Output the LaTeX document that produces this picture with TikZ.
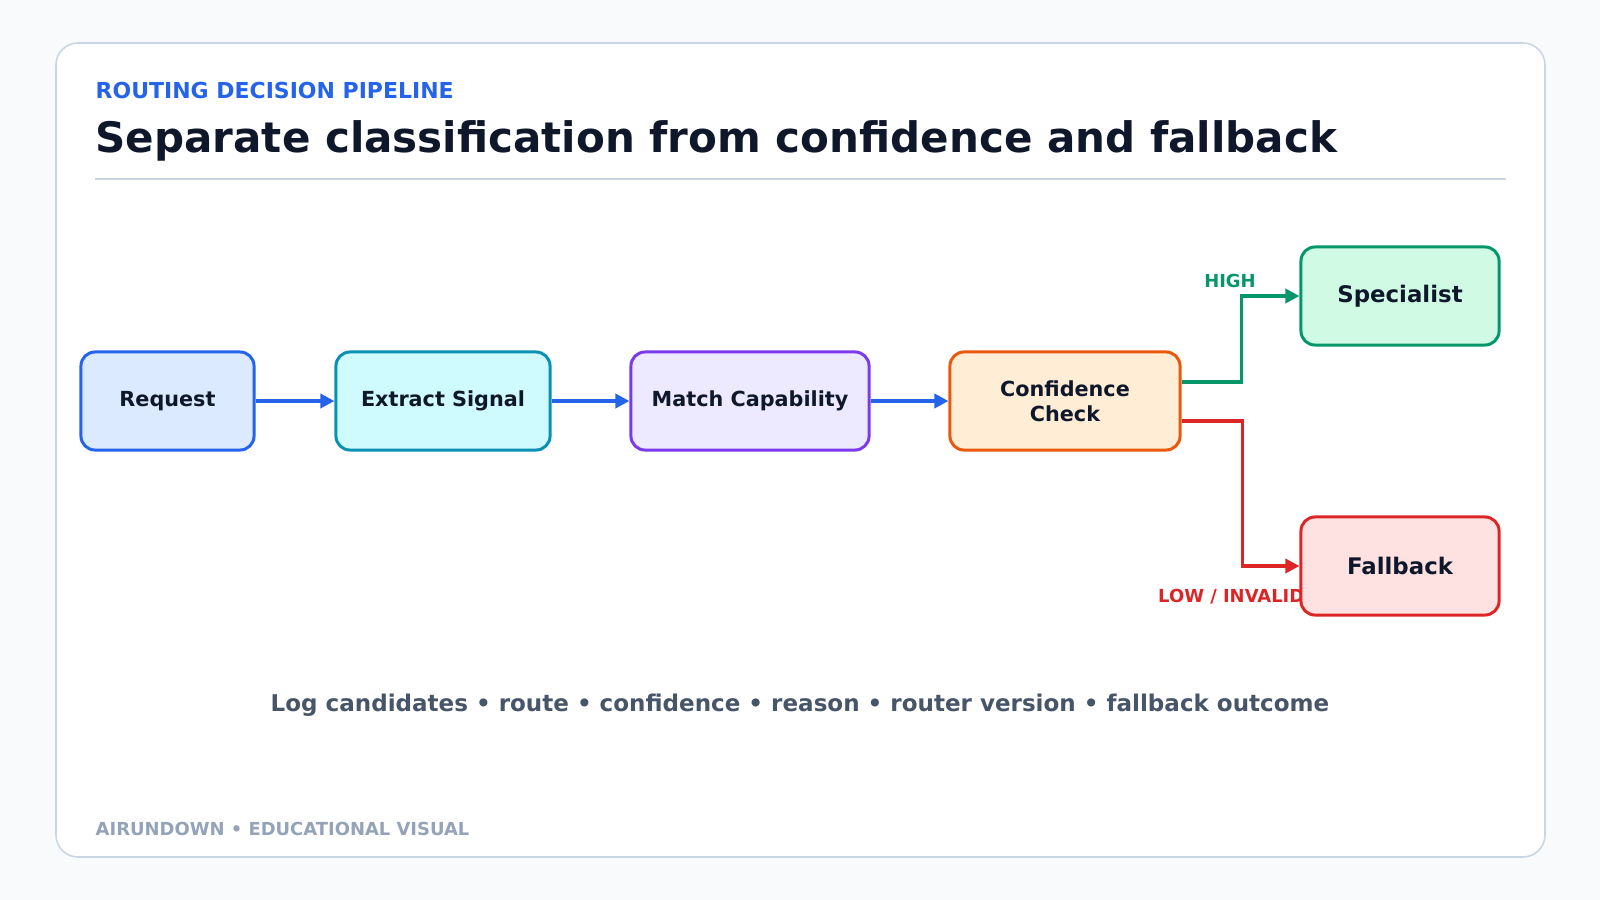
\documentclass[tikz,border=0pt]{standalone}
\usepackage{fontspec}
\setmainfont{DejaVu Sans}
\usepackage{tikz}
\usetikzlibrary{arrows.meta,positioning}
\definecolor{bgpage}{HTML}{F8FAFC}
\definecolor{cardline}{HTML}{CBD5E1}
\definecolor{ink}{HTML}{0F172A}
\definecolor{slate}{HTML}{475569}
\definecolor{muted}{HTML}{94A3B8}
\definecolor{blue}{HTML}{2563EB}
\definecolor{bluefill}{HTML}{DBEAFE}
\definecolor{cyan}{HTML}{0891B2}
\definecolor{cyanfill}{HTML}{CFFAFE}
\definecolor{violet}{HTML}{7C3AED}
\definecolor{violetfill}{HTML}{EDE9FE}
\definecolor{orange}{HTML}{EA580C}
\definecolor{orangefill}{HTML}{FFEDD5}
\definecolor{green}{HTML}{059669}
\definecolor{greenfill}{HTML}{D1FAE5}
\definecolor{red}{HTML}{DC2626}
\definecolor{redfill}{HTML}{FEE2E2}

\begin{document}
\begin{tikzpicture}[x=0.01cm, y=-0.01cm,
    box/.style={draw, line width=0.85pt, rounded corners=0.14cm, inner sep=0pt,
        minimum height=0.98cm, text=ink, align=center,
        font=\fontsize{5.9pt}{7pt}\selectfont\bfseries},
    endbox/.style={box, font=\fontsize{6.5pt}{7.5pt}\selectfont\bfseries},
    flow/.style={line width=1pt, -{Triangle[length=4pt,width=4pt]}},
    tag/.style={font=\fontsize{5.1pt}{6pt}\selectfont\bfseries}]

    % Page and card
    \useasboundingbox[fill=bgpage] (0,0) rectangle (1600,900);
    \draw[cardline, line width=0.45pt, fill=white, rounded corners=0.22cm] (56,43) rectangle (1545,857);

    % Heading
    \node[anchor=base west, text=blue, font=\fontsize{6.25pt}{7.5pt}\selectfont\bfseries, inner sep=0pt] (kicker) at (95,98) {ROUTING DECISION PIPELINE};
    \node[anchor=base west, text=ink, font=\fontsize{11.95pt}{14pt}\selectfont\bfseries, inner sep=0pt] (title) at (95,152) {Separate classification from confidence and fallback};
    \draw[cardline, line width=0.45pt] (95,179) -- (1506,179);

    % Branch labels (under the boxes)
    \node[tag, text=green, anchor=base, inner sep=0pt] (hightag) at (1230,287) {HIGH};
    \node[tag, text=red, anchor=base east, inner sep=0pt] (lowtag) at (1305,602) {LOW / INVALID};

    % Pipeline boxes
    \node[box, minimum width=1.73cm, fill=bluefill, draw=blue] (req) at (167.5,401) {Request};
    \node[box, minimum width=2.14cm, fill=cyanfill, draw=cyan] (ext) at (443,401) {Extract Signal};
    \node[box, minimum width=2.38cm, fill=violetfill, draw=violet] (match) at (750,401) {Match Capability};
    \node[box, minimum width=2.30cm, fill=orangefill, draw=orange] (conf) at (1065,401) {Confidence\\Check};
    \node[endbox, minimum width=1.98cm, fill=greenfill, draw=green] (spec) at (1400,296) {Specialist};
    \node[endbox, minimum width=1.98cm, fill=redfill, draw=red] (fall) at (1400,566) {Fallback};

    % Connectors
    \draw[flow, blue] (req) -- (ext);
    \draw[flow, blue] (ext) -- (match);
    \draw[flow, blue] (match) -- (conf);
    \draw[flow, green] ([yshift=0.19cm]conf.east) -- ++(60,0) |- (spec.west);
    \draw[flow, red] ([yshift=-0.2cm]conf.east) -- ++(61,0) |- (fall.west);

    % Notes
    \node[anchor=base, text=slate, font=\fontsize{6.55pt}{8pt}\selectfont\bfseries, inner sep=0pt] (lognote) at (800,711) {Log candidates • route • confidence • reason • router version • fallback outcome};
    \node[anchor=base west, text=muted, font=\fontsize{5.1pt}{6pt}\selectfont\bfseries, inner sep=0pt] (footer) at (95,835) {AIRUNDOWN • EDUCATIONAL VISUAL};
\end{tikzpicture}
\end{document}
